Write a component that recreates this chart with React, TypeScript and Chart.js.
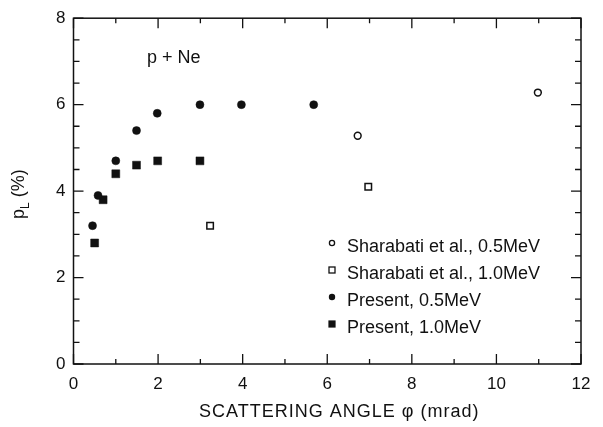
import React, { useEffect, useRef } from 'react';
import { Chart, registerables } from 'chart.js';

Chart.register(...registerables);

// ---- data ----
const sharabatiHalfX = [6.72, 10.98];
const sharabatiHalfY = [5.28, 6.28];
const sharabatiOneX = [3.23, 6.97];
const sharabatiOneY = [3.2, 4.1];
const presentHalfX = [0.45, 0.58, 1.0, 1.49, 1.98, 2.99, 3.97, 5.68];
const presentHalfY = [3.2, 3.9, 4.7, 5.4, 5.8, 6.0, 6.0, 6.0];
const presentOneX = [0.5, 0.7, 1.0, 1.49, 1.99, 2.99];
const presentOneY = [2.8, 3.8, 4.4, 4.6, 4.7, 4.7];

const seriesLabels = [
  'Sharabati et al., 0.5MeV',
  'Sharabati et al., 1.0MeV',
  'Present, 0.5MeV',
  'Present, 1.0MeV',
];
const xMajorTicks = [0, 2, 4, 6, 8, 10, 12];
const xMinorTicks = [1, 3, 5, 7, 9, 11];
const yMajorTicks = [0, 2, 4, 6, 8];
const yMinorTicks = [0.5, 1, 1.5, 2.5, 3, 3.5, 4.5, 5, 5.5, 6.5, 7, 7.5];
const xTitle = 'SCATTERING ANGLE \u03c6 (mrad)';
const annotationText = 'p + Ne';
const annotationX = 1.74;
const annotationY = 6.96;

const FONT = '"Liberation Sans", Arial, Helvetica, sans-serif';
const INK = '#111';

const zip = (xs: number[], ys: number[]) => xs.map((x, i) => ({ x, y: ys[i] }));

const framePlugin = {
  id: 'framePlugin',
  afterDraw(chart: any) {
    const { ctx, chartArea, scales } = chart;
    const xs = scales.x;
    const ys = scales.y;
    const { left, right, top, bottom } = chartArea;
    ctx.save();
    ctx.strokeStyle = INK;
    ctx.lineWidth = 1.5;
    ctx.strokeRect(left, top, right - left, bottom - top);
    ctx.lineWidth = 1.3;
    const tickX = (v: number, len: number) => {
      const px = xs.getPixelForValue(v);
      ctx.beginPath();
      ctx.moveTo(px, bottom);
      ctx.lineTo(px, bottom - len);
      ctx.moveTo(px, top);
      ctx.lineTo(px, top + len);
      ctx.stroke();
    };
    const tickY = (v: number, len: number) => {
      const py = ys.getPixelForValue(v);
      ctx.beginPath();
      ctx.moveTo(left, py);
      ctx.lineTo(left + len, py);
      ctx.moveTo(right, py);
      ctx.lineTo(right - len, py);
      ctx.stroke();
    };
    xMajorTicks.forEach((v) => tickX(v, 10));
    xMinorTicks.forEach((v) => tickX(v, 5));
    yMajorTicks.forEach((v) => tickY(v, 10));
    yMinorTicks.forEach((v) => tickY(v, 6));

    // annotation
    ctx.fillStyle = INK;
    ctx.font = `18px ${FONT}`;
    ctx.textAlign = 'left';
    ctx.textBaseline = 'alphabetic';
    ctx.fillText(annotationText, xs.getPixelForValue(annotationX), ys.getPixelForValue(annotationY));

    // x title (letter-spaced like the original)
    ctx.save();
    ctx.font = `18px ${FONT}`;
    (ctx as any).letterSpacing = '1px';
    ctx.textAlign = 'center';
    ctx.fillText(xTitle, (left + right) / 2 + 12, 416.5);
    ctx.restore();

    // y title with subscript
    const cy = (top + bottom) / 2 + 3;
    ctx.translate(24, cy);
    ctx.rotate(-Math.PI / 2);
    ctx.textAlign = 'left';
    ctx.font = `18px ${FONT}`;
    const wP = ctx.measureText('p').width;
    ctx.font = `12px ${FONT}`;
    const wL = ctx.measureText('L').width;
    ctx.font = `18px ${FONT}`;
    const wRest = ctx.measureText(' (%)').width;
    const total = wP + wL + wRest;
    let x0 = -total / 2;
    ctx.fillText('p', x0, 0);
    x0 += wP;
    ctx.font = `12px ${FONT}`;
    ctx.fillText('L', x0, 5);
    x0 += wL;
    ctx.font = `18px ${FONT}`;
    ctx.fillText(' (%)', x0, 0);
    ctx.setTransform(1, 0, 0, 1, 0, 0);

    // legend
    const lx = 332;
    const ly0 = 247;
    const dy = 27;
    chart.data.datasets.forEach((ds: any, i: number) => {
      const ty = ly0 + i * dy;
      const my = ty - 4;
      ctx.lineWidth = 1.3;
      ctx.strokeStyle = INK;
      ctx.fillStyle = INK;
      if (ds.pointStyle === 'circle') {
        const r = ds.pointBackgroundColor === 'white' ? 2.6 : 3.2;
        ctx.beginPath();
        ctx.arc(lx, my, r, 0, Math.PI * 2);
        if (ds.pointBackgroundColor === 'white') ctx.stroke();
        else ctx.fill();
      } else {
        const h = ds.pointBackgroundColor === 'white' ? 3 : 3.6;
        if (ds.pointBackgroundColor === 'white') ctx.strokeRect(lx - h, my - h, 2 * h, 2 * h);
        else ctx.fillRect(lx - h, my - h, 2 * h, 2 * h);
      }
      ctx.font = `18px ${FONT}`;
      ctx.textAlign = 'left';
      ctx.textBaseline = 'middle';
      ctx.fillText(ds.label, lx + 15, ty);
    });
    ctx.restore();
  },
};

export default function App() {
  const ref = useRef<HTMLCanvasElement>(null);
  useEffect(() => {
    const canvas = ref.current!;
    const chart = new Chart(canvas, {
      type: 'scatter',
      data: {
        datasets: [
          {
            label: seriesLabels[0],
            data: zip(sharabatiHalfX, sharabatiHalfY),
            pointStyle: 'circle',
            pointRadius: 3.4,
            pointBorderWidth: 1.5,
            pointBackgroundColor: 'white',
            pointBorderColor: INK,
          },
          {
            label: seriesLabels[1],
            data: zip(sharabatiOneX, sharabatiOneY),
            pointStyle: 'rect',
            pointRadius: 4.6,
            pointBorderWidth: 1.5,
            pointBackgroundColor: 'white',
            pointBorderColor: INK,
          },
          {
            label: seriesLabels[2],
            data: zip(presentHalfX, presentHalfY),
            pointStyle: 'circle',
            pointRadius: 4,
            pointBorderWidth: 0.5,
            pointBackgroundColor: INK,
            pointBorderColor: INK,
          },
          {
            label: seriesLabels[3],
            data: zip(presentOneX, presentOneY),
            pointStyle: 'rect',
            pointRadius: 5.6,
            pointBorderWidth: 0.5,
            pointBackgroundColor: INK,
            pointBorderColor: INK,
          },
        ] as any,
      },
      options: {
        animation: false,
        responsive: false,
        maintainAspectRatio: false,
        layout: { padding: { left: 0, right: 22, top: 11, bottom: 0 } },
        plugins: { legend: { display: false }, tooltip: { enabled: false } },
        scales: {
          x: {
            type: 'linear',
            min: 0,
            max: 12,
            afterFit: (s: any) => {
              s.height = 63;
            },
            afterBuildTicks: (s: any) => {
              s.ticks = xMajorTicks.map((v) => ({ value: v }));
            },
            grid: { display: false, drawTicks: false },
            border: { display: false },
            ticks: {
              padding: 10,
              color: INK,
              font: { family: FONT, size: 17 },
              maxRotation: 0,
            },
            title: { display: false },
          },
          y: {
            type: 'linear',
            min: 0,
            max: 8,
            afterFit: (s: any) => {
              s.width = 73.5;
            },
            afterBuildTicks: (s: any) => {
              s.ticks = yMajorTicks.map((v) => ({ value: v }));
            },
            grid: { display: false, drawTicks: false },
            border: { display: false },
            ticks: {
              padding: 8,
              color: INK,
              font: { family: FONT, size: 17 },
            },
          },
        },
      },
      plugins: [framePlugin],
    });
    return () => chart.destroy();
  }, []);
  return (
    <div style={{ position: 'absolute', left: 0, top: 0, width: 603, height: 427, background: 'white' }}>
      <canvas ref={ref} width={603} height={427} />
    </div>
  );
}
